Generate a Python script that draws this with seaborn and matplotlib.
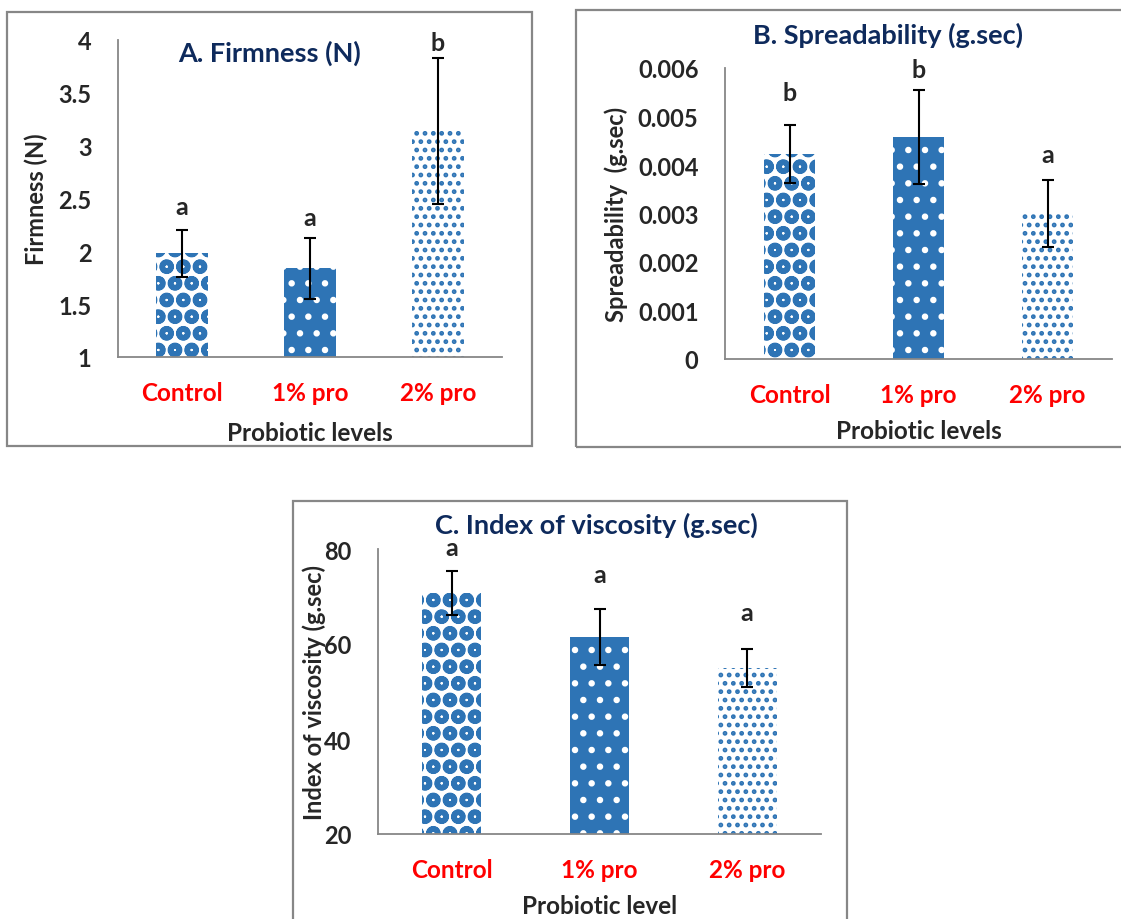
import matplotlib
matplotlib.use('Agg')
import matplotlib.pyplot as plt
import matplotlib.patches as mpatches
import seaborn as sns

# datos
categorias = ['Control', '1% pro', '2% pro']

firmeza = [1.98, 1.84, 3.14]
firmeza_err = [0.22, 0.29, 0.69]
firmeza_letras = ['a', 'a', 'b']
firmeza_letras_y = [2.42, 2.32, 3.98]

extension = [0.00422, 0.00457, 0.00300]
extension_err = [0.0006, 0.00097, 0.0007]
extension_letras = ['b', 'b', 'a']
extension_letras_y = [0.0055, 0.00596, 0.00422]

viscosidad = [70.8, 61.4, 55.0]
viscosidad_err = [4.6, 5.9, 4.0]
viscosidad_letras = ['a', 'a', 'a']
viscosidad_letras_y = [80.4, 74.7, 66.7]

sns.set_style('white')
plt.rcParams['font.family'] = ['Lato', 'DejaVu Sans']
plt.rcParams['hatch.linewidth'] = 2.2

AZUL = '#2E74B5'
GRIS = '#878787'
NAVY = '#0E2A5C'
W, H = 1121, 920

fig = plt.figure(figsize=(W / 100, H / 100), dpi=100)


def px_axes(izq, der, arriba, abajo):
    # convierte pixeles de la imagen a coordenadas de figura
    return fig.add_axes([izq / W, 1 - abajo / H, (der - izq) / W, (abajo - arriba) / H])


def marco(izq, der, arriba, abajo):
    rect = mpatches.Rectangle((izq / W, 1 - abajo / H), (der - izq) / W, (abajo - arriba) / H,
                              transform=fig.transFigure, fill=False, edgecolor=GRIS, linewidth=1.6)
    fig.add_artist(rect)


def graficar(ax, valores, errores, letras, letras_y, ylim, yticks, yticklabels):
    sns.barplot(x=categorias, y=valores, ax=ax, width=0.4, color=AZUL)
    # textura de cada barra: (relleno, color de trama, trama)
    estilos = [('white', AZUL, 'Oo'), (AZUL, 'white', '.'), ('white', AZUL, '..')]
    for barra, (fc, hc, h) in zip(ax.patches, estilos):
        barra.set_facecolor(fc)
        barra.set_edgecolor(hc)
        barra.set_linewidth(0)
        barra.set_hatch(h)
    ax.errorbar(range(3), valores, yerr=errores, fmt='none', ecolor='black',
                elinewidth=1.5, capsize=4.5, capthick=1.5)
    for i, (l, y) in enumerate(zip(letras, letras_y)):
        ax.text(i, y, l, ha='center', va='center', fontsize=18, fontweight='bold')
    ax.set_xlim(-0.5, 2.5)
    ax.set_ylim(*ylim)
    ax.set_yticks(yticks)
    ax.set_yticklabels(yticklabels, fontsize=17, fontweight='bold')
    ax.set_xticks(range(3))
    ax.set_xticklabels(categorias, fontsize=17.5, fontweight='bold', color='#FF0000')
    ax.set_xticks([-0.5, 0.5, 1.5, 2.5], minor=True)
    ax.tick_params(axis='x', which='major', length=0, pad=17.5)
    ax.tick_params(axis='x', which='minor', length=8, color=GRIS, width=1.3, direction='out')
    ax.tick_params(axis='y', length=8, color=GRIS, width=1.3, direction='out', pad=11)
    for lado in ['top', 'right']:
        ax.spines[lado].set_visible(False)
    for lado in ['left', 'bottom']:
        ax.spines[lado].set_color(GRIS)
        ax.spines[lado].set_linewidth(1.3)
    ax.patch.set_alpha(0)


# A. Firmeza
marco(7, 532, 13, 447)
axA = px_axes(118, 502, 41, 358)
graficar(axA, firmeza, firmeza_err, firmeza_letras, firmeza_letras_y,
         (1, 4), [1, 1.5, 2, 2.5, 3, 3.5, 4], ['1', '1.5', '2', '2.5', '3', '3.5', '4'])
axA.set_xlabel('Probiotic levels', fontsize=17.5, fontweight='bold', labelpad=12)
axA.set_ylabel('Firmness (N)', fontsize=17, fontweight='bold')
axA.yaxis.set_label_coords(-0.182, 0.5)
fig.text(270 / W, 1 - 53 / H, 'A. Firmness (N)', ha='center', va='center',
         fontsize=19.5, fontweight='bold', color=NAVY)

# B. Extensibilidad
marco(576, 1130, 11, 448)
axB = px_axes(725, 1112, 69, 360)
graficar(axB, extension, extension_err, extension_letras, extension_letras_y,
         (0, 0.006), [0, 0.001, 0.002, 0.003, 0.004, 0.005, 0.006],
         ['0', '0.001', '0.002', '0.003', '0.004', '0.005', '0.006'])
axB.set_xlabel('Probiotic levels', fontsize=17.5, fontweight='bold', labelpad=9)
axB.set_ylabel('Spreadability  (g.sec)', fontsize=17, fontweight='bold')
axB.yaxis.set_label_coords(-0.25, 0.5)
fig.text(888 / W, 1 - 35 / H, 'B. Spreadability (g.sec)', ha='center', va='center',
         fontsize=19.5, fontweight='bold', color=NAVY)

# C. Indice de viscosidad
marco(293, 847, 502, 930)
axC = px_axes(378, 821, 550, 835)
graficar(axC, viscosidad, viscosidad_err, viscosidad_letras, viscosidad_letras_y,
         (20, 80), [20, 40, 60, 80], ['20', '40', '60', '80'])
axC.set_xlabel('Probiotic level', fontsize=17.5, fontweight='bold', labelpad=9)
axC.set_ylabel('Index of viscosity (g.sec)', fontsize=17, fontweight='bold')
axC.yaxis.set_label_coords(-0.118, 0.5)
fig.text(596 / W, 1 - 525 / H, 'C. Index of viscosity (g.sec)', ha='center', va='center',
         fontsize=19.5, fontweight='bold', color=NAVY)

fig.savefig('out.png', dpi=100)
